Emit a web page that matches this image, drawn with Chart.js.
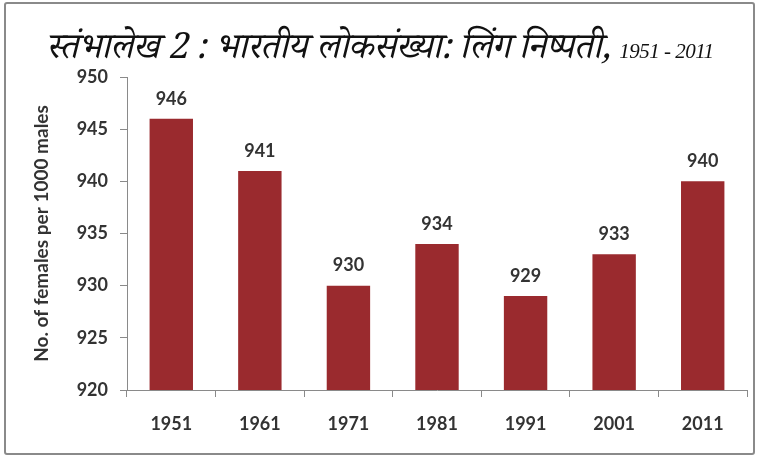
<!DOCTYPE html>
<html>
<head>
<meta charset="utf-8">
<script src="https://cdn.jsdelivr.net/npm/chart.js@4"></script>
<style>
  body { margin: 0; background: #fff; }
  #wrap { position: relative; width: 759px; height: 463px; }
  #frame { position: absolute; left: 4px; top: 2px; width: 751px; height: 453px;
           border: 2px solid #8a8a8a; border-radius: 3px; box-sizing: border-box; }
  #title { position: absolute; left: 0; top: 25px; width: 759px; text-align: center;
           font-family: "Noto Serif Devanagari", "Noto Sans Devanagari", serif;
           font-style: italic; font-size: 36px; color: #111; white-space: nowrap; letter-spacing: -0.5px; }
  #title span { font-family: "Liberation Serif", serif; font-size: 21px; }
  canvas { position: absolute; left: 0; top: 0; }
</style>
</head>
<body>
<div id="wrap">
  <canvas id="ratioChart" width="759" height="463"></canvas>
  <div id="frame"></div>
  <div id="title">स्तंभालेख 2 : भारतीय लोकसंख्या: लिंग निष्पती, <span>1951 - 2011</span></div>
</div>
<script>
const years = ['1951', '1961', '1971', '1981', '1991', '2001', '2011'];
const femalesPer1000 = [946, 941, 930, 934, 929, 933, 940];
const yMin = 920;
const yMax = 950;
const yStep = 5;

const barColor = '#9a2a2e';
const textColor = '#333333';
const axisColor = '#8a8a8a';
const fontFamily = 'Lato, "Open Sans", sans-serif';

const valueLabels = {
  id: 'valueLabels',
  afterDatasetsDraw(chart) {
    const ctx = chart.ctx;
    const meta = chart.getDatasetMeta(0);
    ctx.save();
    ctx.font = 'bold 18px ' + fontFamily;
    ctx.fillStyle = textColor;
    ctx.textAlign = 'center';
    ctx.textBaseline = 'bottom';
    meta.data.forEach((bar, i) => {
      ctx.fillText(femalesPer1000[i], bar.x, bar.y - 11);
    });
    ctx.restore();
  }
};

const ctx = document.getElementById('ratioChart').getContext('2d');
new Chart(ctx, {
  type: 'bar',
  data: {
    labels: years,
    datasets: [{
      data: femalesPer1000,
      backgroundColor: barColor,
      barPercentage: 0.49,
      categoryPercentage: 1
    }]
  },
  options: {
    responsive: false,
    animation: false,
    layout: { padding: { left: 30, top: 77, right: 12, bottom: 0 } },
    plugins: {
      legend: { display: false },
      tooltip: { enabled: false }
    },
    scales: {
      x: {
        grid: { drawOnChartArea: false, color: axisColor, tickLength: 7, offset: true },
        border: { color: axisColor, width: 1 },
        ticks: { color: textColor, padding: 16, font: { family: fontFamily, size: 18, weight: 'bold' } },
        afterFit(scale) { scale.height = 73; }
      },
      y: {
        min: yMin,
        max: yMax,
        grid: { drawOnChartArea: false, color: axisColor, tickLength: 7 },
        border: { color: axisColor, width: 1 },
        ticks: { stepSize: yStep, color: textColor, padding: 12, font: { family: fontFamily, size: 18, weight: 'bold' } },
        title: {
          display: true,
          text: 'No. of females per 1000 males',
          color: textColor,
          padding: { top: 0, bottom: 12 },
          font: { family: fontFamily, size: 19, weight: 'bold' }
        },
        afterFit(scale) { scale.width = 97; }
      }
    }
  },
  plugins: [valueLabels]
});
</script>
</body>
</html>
